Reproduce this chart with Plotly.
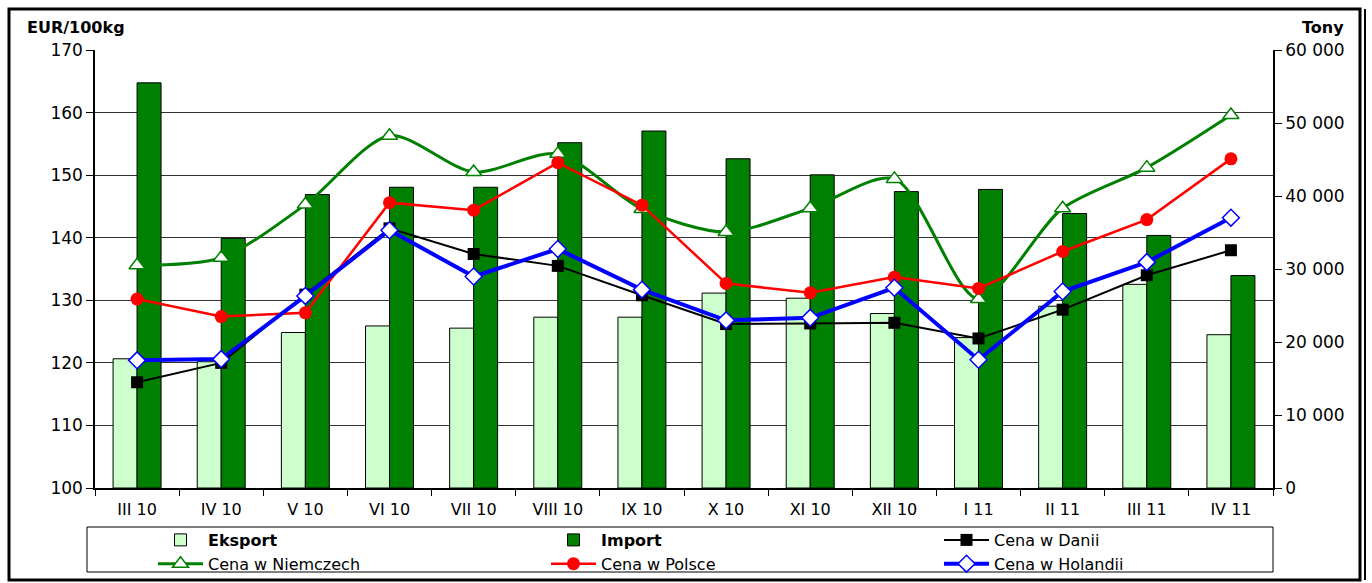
import plotly.graph_objects as go

categories = ["III 10", "IV 10", "V 10", "VI 10", "VII 10", "VIII 10", "IX 10",
              "X 10", "XI 10", "XII 10", "I 11", "II 11", "III 11", "IV 11"]
eksport = [17700, 17300, 21300, 22200, 21900, 23400, 23400, 26700, 26000, 23900, 20600, 24900, 27900, 21000]
import_ = [55500, 34200, 40200, 41200, 41200, 47300, 48900, 45100, 42900, 40600, 40900, 37600, 34600, 29100]
cena_dania = [116.9, 120.0, 130.9, 141.5, 137.4, 135.5, 130.8, 126.2, 126.3, 126.4, 123.9, 128.5, 134.0, 138.0]
cena_niemcy = [135.6, 136.8, 145.3, 156.3, 150.5, 153.4, 144.6, 140.9, 144.7, 149.4, 130.2, 144.7, 151.2, 159.6]
cena_polska = [130.2, 127.4, 128.0, 145.6, 144.4, 152.0, 145.2, 132.7, 131.2, 133.7, 131.9, 137.8, 142.9, 152.6]
cena_holandia = [120.4, 120.6, 130.7, 141.2, 133.8, 138.2, 131.7, 126.8, 127.2, 132.0, 120.5, 131.4, 136.1, 143.2]

W, H = 1372, 583
L, R, T, B = 95, 1273, 50, 488
PW, PH = R - L, B - T

def px(x):
    return (x - L) / PW

def py(y):
    return (B - y) / PH

FONT = "DejaVu Sans"

fig = go.Figure()
fig.add_trace(go.Bar(x=categories, y=eksport, name="<b>Eksport</b>", yaxis="y",
                     marker=dict(color="#CCFFCC", line=dict(color="#000000", width=1))))
fig.add_trace(go.Bar(x=categories, y=import_, name="<b>Import</b>", yaxis="y",
                     marker=dict(color="#008000", line=dict(color="#000000", width=1))))
fig.add_trace(go.Scatter(x=categories, y=cena_dania, name="Cena w Danii", yaxis="y2",
                         mode="lines+markers", line=dict(color="#000000", width=2),
                         marker=dict(symbol="square", size=12, color="#000000")))
fig.add_trace(go.Scatter(x=categories, y=cena_niemcy, name="Cena w Niemczech", yaxis="y2",
                         mode="lines+markers", line=dict(color="#008000", width=3, shape="spline", smoothing=0.8),
                         marker=dict(symbol="triangle-up", size=14, color="#FFFFFF",
                                     line=dict(color="#008000", width=1.5))))
fig.add_trace(go.Scatter(x=categories, y=cena_polska, name="Cena w Polsce", yaxis="y2",
                         mode="lines+markers", line=dict(color="#FF0000", width=2.5),
                         marker=dict(symbol="circle", size=13, color="#FF0000")))
fig.add_trace(go.Scatter(x=categories, y=cena_holandia, name="Cena w Holandii", yaxis="y2",
                         mode="lines+markers", line=dict(color="#0000FF", width=4),
                         marker=dict(symbol="diamond", size=13, color="#FFFFFF",
                                     line=dict(color="#0000FF", width=1.5))))

fig.update_layout(
    width=W, height=H,
    margin=dict(l=L, r=W - R, t=T, b=H - B, autoexpand=False),
    paper_bgcolor="white", plot_bgcolor="white",
    separators=". ",
    barmode="group", bargap=0.43, bargroupgap=0,
    font=dict(family=FONT, size=16, color="#000000"),
    xaxis=dict(range=[-0.5, len(categories) - 0.5], autorange=False,
               showline=True, linecolor="#000000", linewidth=1.5,
               ticks="outside", tickson="boundaries", ticklen=6, tickcolor="#000000",
               tickfont=dict(size=16), showgrid=False, automargin=False,
               ticklabelstandoff=6),
    yaxis=dict(side="right", range=[0, 60000], dtick=10000, showgrid=False,
               tickformat=",d",
               showline=True, linecolor="#000000", linewidth=1.5,
               ticks="outside", ticklen=7, tickcolor="#000000",
               tickfont=dict(size=17), zeroline=False, automargin=False),
    yaxis2=dict(side="left", overlaying="y", range=[100, 170], dtick=10,
                showgrid=True, gridcolor="#333333", gridwidth=1,
                showline=True, linecolor="#000000", linewidth=1.5,
                ticks="outside", ticklen=7, tickcolor="#000000",
                tickfont=dict(size=17), zeroline=False, automargin=False),
    showlegend=True,
    legend=dict(orientation="h", x=px(153), y=py(523), xanchor="left", yanchor="top",
                font=dict(family=FONT, size=16), entrywidth=333, entrywidthmode="pixels",
                bgcolor="rgba(0,0,0,0)", borderwidth=0, traceorder="normal",
                itemwidth=45, tracegroupgap=0),
    annotations=[
        dict(text="<b>EUR/100kg</b>", x=px(25), y=py(28), xref="paper", yref="paper",
             xanchor="left", yanchor="middle", showarrow=False, font=dict(size=16)),
        dict(text="<b>Tony</b>", x=px(1346), y=py(28), xref="paper", yref="paper",
             xanchor="right", yanchor="middle", showarrow=False, font=dict(size=16)),
    ],
    shapes=[
        dict(type="rect", xref="paper", yref="paper", x0=px(9), x1=px(1360), y0=py(580), y1=py(9),
             line=dict(color="#000000", width=3), fillcolor="rgba(0,0,0,0)", layer="above"),
        dict(type="line", xref="paper", yref="paper", x0=px(1365), x1=px(1365), y0=py(580), y1=py(9),
             line=dict(color="#000000", width=2), layer="above"),
        dict(type="rect", xref="paper", yref="paper", x0=px(87), x1=px(1273), y0=py(572), y1=py(527),
             line=dict(color="#000000", width=1), fillcolor="rgba(0,0,0,0)", layer="above"),
    ],
)

fig.write_html("out.html", config={"displayModeBar": False},
               post_script="document.body.style.margin='0';document.body.style.overflow='hidden';")
